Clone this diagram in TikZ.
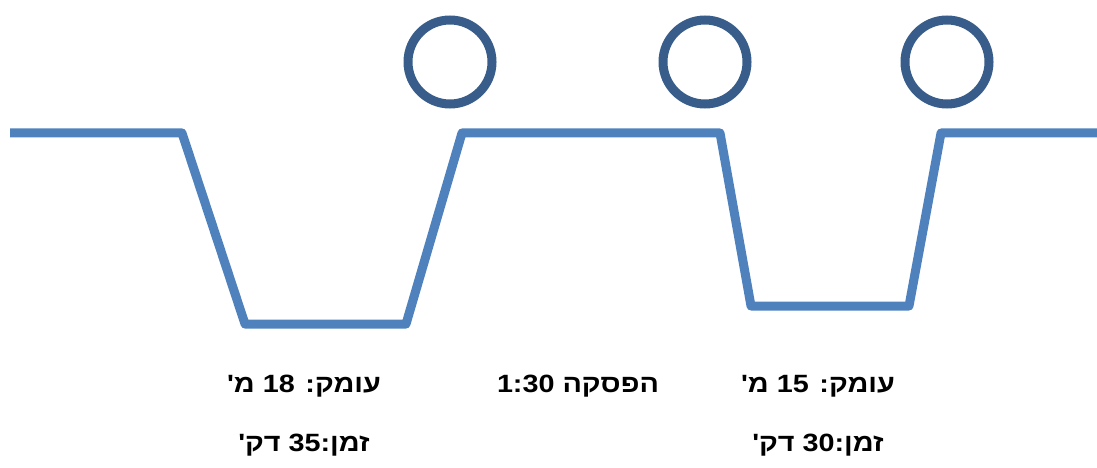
\documentclass[tikz,border=0pt]{standalone}
\usepackage{fontspec}
\usepackage{graphicx}
\setmainfont{Liberation Sans}
\newfontfamily\hebfont[Script=Hebrew]{Liberation Sans}
\TeXXeTstate=1
\definecolor{lineblue}{HTML}{4F81BD}
\definecolor{ringblue}{HTML}{385D8A}
\newcommand{\widetxt}[1]{\scalebox{1.15}[1]{#1}}
\begin{document}
\begin{tikzpicture}[x=1pt,y=-1pt,
  profile/.style={draw=lineblue,line width=9pt,line join=round},
  ring/.style={circle,draw=ringblue,line width=9pt,minimum size=84pt,inner sep=0pt},
  lbl/.style={font=\hebfont\fontsize{25}{30}\selectfont\bfseries,anchor=base,inner sep=0pt}]
\useasboundingbox (0,0) rectangle (1097,468);
\coordinate (p0) at (10,133);
\coordinate (p1) at (182,133);
\coordinate (p2) at (245,324);
\coordinate (p3) at (406,324);
\coordinate (p4) at (462,133);
\coordinate (p5) at (720,133);
\coordinate (p6) at (751,306);
\coordinate (p7) at (909,306);
\coordinate (p8) at (941,133);
\coordinate (p9) at (1097,133);
\draw[profile] (p0) -- (p1) -- (p2) -- (p3) -- (p4) -- (p5) -- (p6) -- (p7) -- (p8) -- (p9);
\node[ring] (c1) at (450,62) {};
\node[ring] (c2) at (705,62) {};
\node[ring] (c3) at (947,62) {};
\node[lbl] (d1) at (304,392) {\widetxt{\beginR עומק: 18 מ'\endR}};
\node[lbl] (t1) at (304,451) {\widetxt{\beginR זמן:35 דק'\endR}};
\node[lbl] (br) at (578,392) {\widetxt{\beginR הפסקה 1:30\endR}};
\node[lbl] (d2) at (818,392) {\widetxt{\beginR עומק: 15 מ'\endR}};
\node[lbl] (t2) at (818,451) {\widetxt{\beginR זמן:30 דק'\endR}};
\end{tikzpicture}
\end{document}
